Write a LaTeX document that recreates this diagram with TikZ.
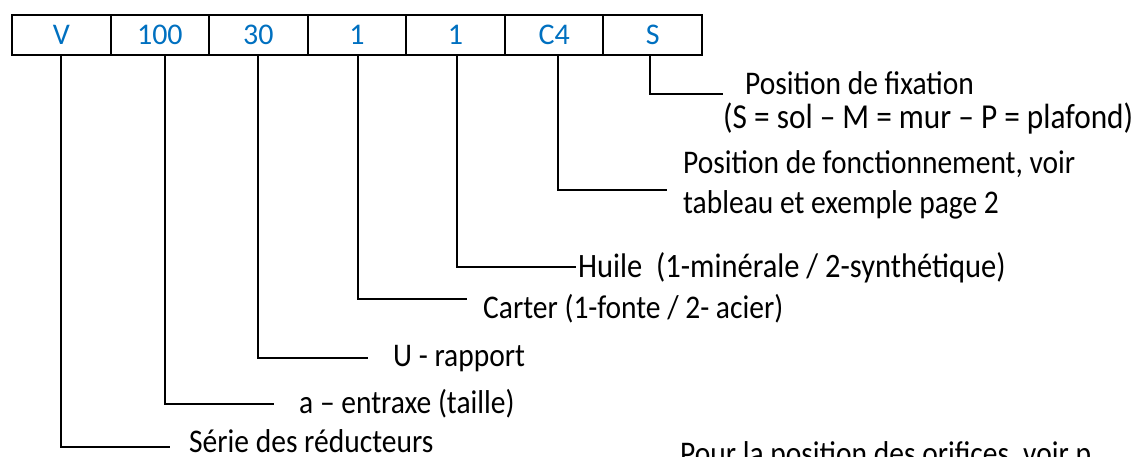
\documentclass[tikz,border=0pt]{standalone}
\usepackage{fontspec}
\setmainfont{Carlito}
\definecolor{wblue}{RGB}{0,112,192}
\newcommand{\tall}[1]{\scalebox{1}[1.12]{#1}}
\begin{document}
\begin{tikzpicture}[x=1pt,y=-1pt,
  cell/.style={draw=black,line width=2pt,minimum width=98.57pt,minimum height=40pt,inner sep=0pt,
    text=wblue,font=\fontsize{30}{34}\selectfont,anchor=north west},
  lbl/.style={anchor=base west,inner sep=0pt,font=\fontsize{29.5}{34}\selectfont},
  conn/.style={draw=black,line width=1.6pt}]
\useasboundingbox (0,0) rectangle (1138,456);
\clip (0,0) rectangle (1138,456);
\node[cell] (c1) at (11.0,14) {V};
\node[cell] (c2) at (109.57,14) {100};
\node[cell] (c3) at (208.14,14) {30};
\node[cell] (c4) at (306.71,14) {1};
\node[cell] (c5) at (405.28,14) {1};
\node[cell] (c6) at (503.85,14) {C4};
\node[cell] (c7) at (602.42,14) {S};
% labels
\node[lbl] (t1) at (189,452) {\tall{Série des réducteurs}};
\node[lbl] (t2) at (299,413) {\tall{a – entraxe (taille)}};
\node[lbl] (t3) at (393,366) {\tall{U - rapport}};
\node[lbl] (t4) at (483,318) {\tall{Carter (1-fonte / 2- acier)}};
\node[lbl,font=\fontsize{30.5}{34}\selectfont] (t5) at (578,277) {\tall{Huile\ \ (1-minérale / 2-synthétique)}};
\node[lbl] (t6a) at (683,173) {\tall{Position de fonctionnement, voir}};
\node[lbl] (t6b) at (683,213) {\tall{tableau et exemple page 2}};
\node[lbl] (t7a) at (745,94) {\tall{Position de fixation}};
\node[lbl,font=\fontsize{31.3}{34}\selectfont] (t7b) at (723,128) {\tall{(S = sol – M = mur – P = plafond)}};
\node[lbl] (t8) at (680,464) {\tall{Pour la position des orifices, voir p}};
% line ends
\coordinate (e1) at (170,447);
\coordinate (e2) at (274,404);
\coordinate (e3) at (368,358);
\coordinate (e4) at (467,299);
\coordinate (e5) at (576,267);
\coordinate (e6) at (667,190);
\coordinate (e7) at (723,94);
\draw[conn] ([xshift=-0.3pt]c1.south) |- (e1);
\draw[conn] ([xshift=5.1pt]c2.south) |- (e2);
\draw[conn] ([xshift=-0.4pt]c3.south) |- (e3);
\draw[conn] ([xshift=1pt]c4.south) |- (e4);
\draw[conn] ([xshift=1.4pt]c5.south) |- (e5);
\draw[conn] ([xshift=3.9pt]c6.south) |- (e6);
\draw[conn] ([xshift=-2.7pt]c7.south) |- (e7);
\end{tikzpicture}
\end{document}
